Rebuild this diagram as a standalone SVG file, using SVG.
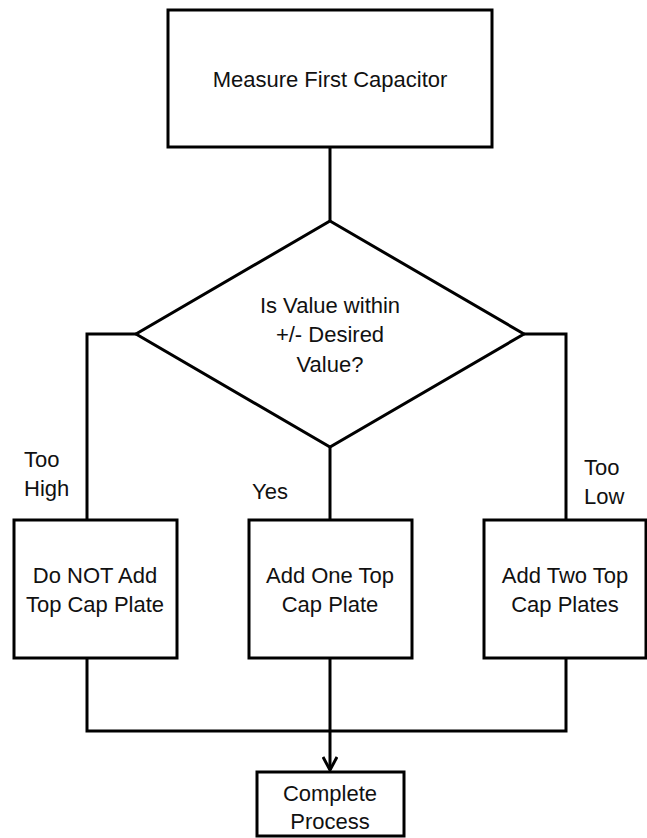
<svg xmlns="http://www.w3.org/2000/svg" width="647" height="838" viewBox="0 0 647 838">
<style>
.box{fill:#fff;stroke:#000;stroke-width:3}
.ln{fill:none;stroke:#000;stroke-width:3}
text{font-family:"Liberation Sans",Arial,sans-serif;font-size:22px;fill:#111}
.c{text-anchor:middle}
</style>
<defs>
<marker id="arr" markerWidth="16" markerHeight="16" refX="14" refY="8" orient="auto" markerUnits="userSpaceOnUse" viewBox="0 0 16 16">
<polyline points="1,1 14,8 1,15" fill="none" stroke="#000" stroke-width="3"/>
</marker>
</defs>
<rect width="647" height="838" fill="#fff"/>
<g id="connectors">
<line class="ln" x1="330" y1="147" x2="330" y2="221"/>
<polyline class="ln" points="136,334 87,334 87,520"/>
<polyline class="ln" points="524,334 566,334 566,520"/>
<line class="ln" x1="330" y1="447" x2="330" y2="520"/>
<polyline class="ln" points="87,658 87,731 566,731 566,658"/>
<line class="ln" x1="330" y1="658" x2="330" y2="770" marker-end="url(#arr)"/>
<text x="24" y="467">Too</text>
<text x="24" y="496">High</text>
<text x="252" y="499">Yes</text>
<text x="584" y="475">Too</text>
<text x="584" y="504">Low</text>
</g>
<g id="measure">
<rect class="box" x="168" y="10" width="324" height="137"/>
<text class="c" x="330" y="87">Measure First Capacitor</text>
</g>
<g id="decision">
<polygon class="box" points="330,221 524,334 330,447 136,334"/>
<text class="c" x="330" y="313">Is Value within</text>
<text class="c" x="330" y="342">+/- Desired</text>
<text class="c" x="330" y="372">Value?</text>
</g>
<g id="notadd">
<rect class="box" x="14" y="520" width="163" height="138"/>
<text class="c" x="95" y="583">Do NOT Add</text>
<text class="c" x="95" y="612">Top Cap Plate</text>
</g>
<g id="addone">
<rect class="box" x="249" y="520" width="163" height="138"/>
<text class="c" x="330" y="583">Add One Top</text>
<text class="c" x="330" y="612">Cap Plate</text>
</g>
<g id="addtwo">
<rect class="box" x="484" y="520" width="162" height="138"/>
<text class="c" x="565" y="583">Add Two Top</text>
<text class="c" x="565" y="612">Cap Plates</text>
</g>
<g id="complete">
<rect class="box" x="257" y="772" width="147" height="64"/>
<text class="c" x="330" y="801">Complete</text>
<text class="c" x="330" y="829">Process</text>
</g>
</svg>
